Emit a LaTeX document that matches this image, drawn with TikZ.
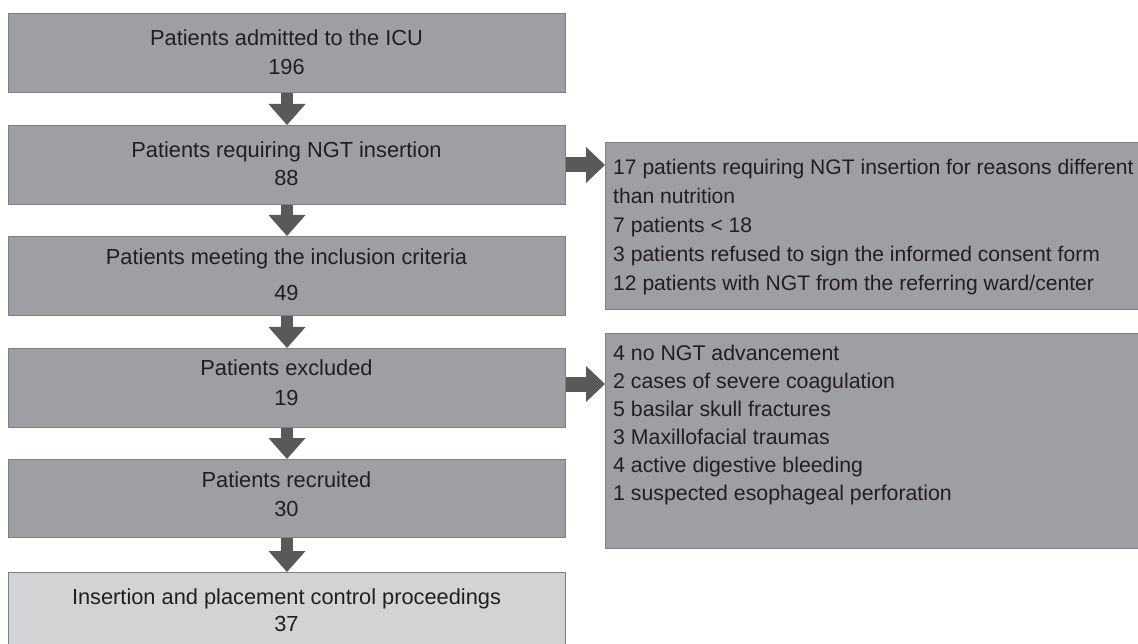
\documentclass[tikz,border=0pt]{standalone}
\usepackage{fontspec}
\setmainfont{Liberation Sans}
\usetikzlibrary{arrows.meta}
\definecolor{boxgray}{HTML}{9D9FA2}
\definecolor{boxedge}{HTML}{7E7F82}
\definecolor{lightbox}{HTML}{D1D3D4}
\definecolor{arrowgray}{HTML}{58595B}
\definecolor{txtcol}{HTML}{231F20}
\begin{document}
\begin{tikzpicture}[x=1pt,y=-1pt,
  stagebox/.style={draw=boxedge, line width=1pt, fill=boxgray, minimum width=557pt, minimum height=79pt, inner sep=0pt, anchor=north west},
  lastbox/.style={stagebox, fill=lightbox, minimum height=90pt},
  sidebox/.style={draw=boxedge, line width=1pt, fill=boxgray, minimum width=545pt, inner sep=0pt, anchor=north west},
  stagetext/.style={text=txtcol, align=center, inner sep=0pt, font=\fontsize{21.8}{26}\selectfont},
  sidetext/.style={text=txtcol, align=left, inner sep=0pt, anchor=north west},
  downarrow/.style={draw=arrowgray, line width=12pt, -{Triangle[length=21pt, width=37pt, line width=0pt]}},
  rightarrow/.style={draw=arrowgray, line width=15pt, -{Triangle[length=19pt, width=36pt, line width=0pt]}}
]
\useasboundingbox (0,0) rectangle (1138,644);
\clip (0,0) rectangle (1138,644);
\fill[white] (0,0) rectangle (1138,644);

% left column boxes
\node[stagebox] (b1) at (8,13) {};
\node[stagebox] (b2) at (8,125) {};
\node[stagebox] (b3) at (8,236) {};
\node[stagebox] (b4) at (8,348) {};
\node[stagebox, minimum height=78pt] (b5) at (8,459) {};
\node[lastbox] (b6) at (8,572) {};

% right boxes
\node[sidebox, minimum height=167pt] (r1) at (605,142) {};
\node[sidebox, minimum height=215pt] (r2) at (605,333) {};

% texts in left boxes
\node[stagetext] (t1) at (286.5,52) {Patients admitted to the ICU\\[3pt]196};
\node[stagetext] (t2) at (286.5,163.5) {Patients requiring NGT insertion\\[2pt]88};
\node[stagetext] (t3) at (286.5,274.5) {Patients meeting the inclusion criteria\\[10pt]49};
\node[stagetext] (t4) at (286.5,382.5) {Patients excluded\\[4pt]19};
\node[stagetext] (t5) at (286.5,494) {Patients recruited\\[3pt]30};
\node[stagetext] (t6) at (286.5,610) {Insertion and placement control proceedings\\[1pt]37};

% texts in right boxes
\node[sidetext, font=\fontsize{21.1}{29}\selectfont] (s1) at (613,159)
  {17 patients requiring NGT insertion for reasons different\\
   than nutrition\\
   7 patients < 18\\
   3 patients refused to sign the informed consent form\\
   12 patients with NGT from the referring ward/center};
\node[sidetext, font=\fontsize{21.3}{28}\selectfont] (s2) at (613,344.5)
  {4 no NGT advancement\\
   2 cases of severe coagulation\\
   5 basilar skull fractures\\
   3 Maxillofacial traumas\\
   4 active digestive bleeding\\
   1 suspected esophageal perforation};

% vertical arrows
\draw[downarrow] (b1.south) -- (b2.north);
\draw[downarrow] (b2.south) -- (b3.north);
\draw[downarrow] (b3.south) -- (b4.north);
\draw[downarrow] (b4.south) -- (b5.north);
\draw[downarrow] (b5.south) -- (b6.north);

% horizontal arrows
\draw[rightarrow] (b2.east) -- (b2.east -| r1.west);
\draw[rightarrow] ([yshift=4pt]b4.east) -- ([yshift=4pt]b4.east -| r2.west);
\end{tikzpicture}
\end{document}
